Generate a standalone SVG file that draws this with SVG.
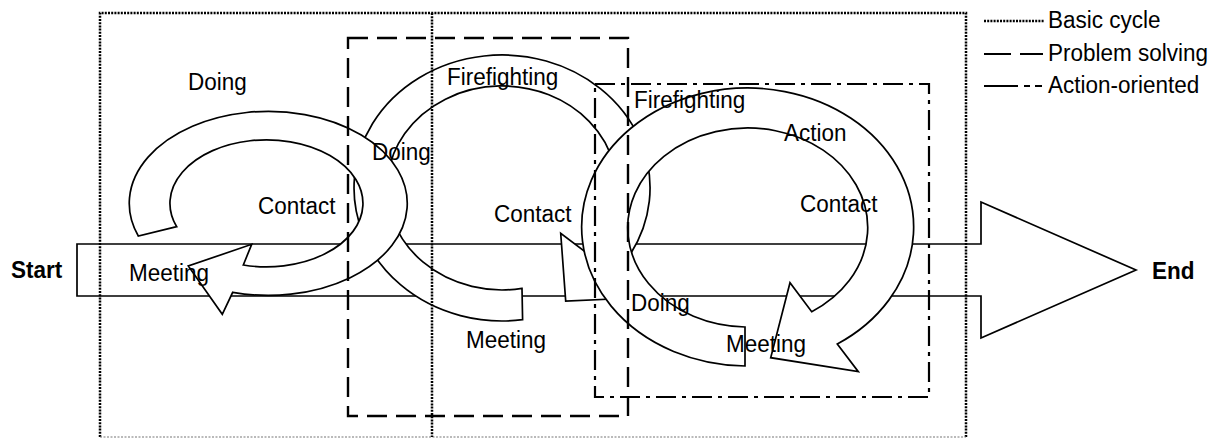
<svg xmlns="http://www.w3.org/2000/svg" width="1215" height="441" viewBox="0 0 1215 441">
<style>
text{font-family:"Liberation Sans",Arial,sans-serif;font-size:22.5px;fill:#000}
.b{font-weight:bold}
.band{fill:#fff;stroke:#000;stroke-width:1.7;stroke-linejoin:miter}
.dot{fill:none;stroke:#000;stroke-width:2.5;stroke-dasharray:2 1.2}
.dash{fill:none;stroke:#000;stroke-width:2.4;stroke-dasharray:20 9}
.dd{fill:none;stroke:#000;stroke-width:2.2;stroke-dasharray:20 6 4 6}
</style>
<g id="connectors">
<path id="main-arrow" class="band" d="M77,244 L981,244 L981,202 L1136,270 L981,338 L981,296 L77,296 Z"/>
</g>
<g id="cycle2">
<path class="band" d="M522.6,319.7 A148,133 0 1 1 630.2,254.5 L588.8,254.9 A115,102 0 1 0 522,288.4 Z"/>
<path class="band" d="M560.7,233.3 L565.7,301 L612,299 L612,272 Z"/>
</g>
<g id="cycle3">
<path class="band" d="M745,366 A166,139 0 1 1 837.3,344 L858.3,371.7 L770.7,357.7 L790,282.7 L811.7,311.7 A120,99.5 0 1 0 745,327 Z"/>
</g>
<g id="cycle1">
<path class="band" d="M138.3,236 A139,92 0 1 1 232.7,292.3 L222.3,314.3 L188.3,266 L251.7,244.3 L243.3,265 A96.5,63.5 0 1 0 176.7,226.7 Z"/>
</g>
<g id="basic-cycle-box">
<path class="dot" d="M100,437 L100,13 L966,13 L966,437"/>
<path fill="none" stroke="#777" stroke-width="1.2" stroke-dasharray="2 1.5" d="M100,437 L966,437"/>
<path class="dot" d="M432,13 L432,437"/>
</g>
<g id="problem-solving-box">
<rect class="dash" x="348" y="38" width="280" height="378"/>
</g>
<g id="action-oriented-box">
<rect class="dd" x="595" y="84" width="334" height="313"/>
</g>
<g id="labels">
<text transform="translate(188,90) scale(1,1.1)">Doing</text>
<text transform="translate(258,214) scale(1,1.1)">Contact</text>
<text transform="translate(129,281) scale(1,1.1)">Meeting</text>
<text transform="translate(372,160) scale(1,1.1)">Doing</text>
<text transform="translate(447,85) scale(1,1.1)">Firefighting</text>
<text transform="translate(494,222) scale(1,1.1)">Contact</text>
<text transform="translate(466,348) scale(1,1.1)">Meeting</text>
<text transform="translate(634,108) scale(1,1.1)">Firefighting</text>
<text transform="translate(784,141) scale(1,1.1)">Action</text>
<text transform="translate(800,212) scale(1,1.1)">Contact</text>
<text transform="translate(631,311) scale(1,1.1)">Doing</text>
<text transform="translate(726,352) scale(1,1.1)">Meeting</text>
<text class="b" transform="translate(11,278) scale(1,1.1)">Start</text>
<text class="b" transform="translate(1152,279) scale(1,1.1)">End</text>
</g>
<g id="legend">
<path class="dot" stroke-width="1.8" d="M984,21 L1044,21"/>
<text transform="translate(1048,28) scale(1,1.1)">Basic cycle</text>
<path fill="none" stroke="#000" stroke-width="2.2" d="M984,54 L1011,54 M1020,54 L1043,54"/>
<text transform="translate(1048,61) scale(1,1.1)">Problem solving</text>
<path fill="none" stroke="#000" stroke-width="2.2" d="M984,86 L1018,86 M1024,86 L1030,86 M1035,86 L1042,86"/>
<text transform="translate(1048,93) scale(1,1.1)">Action-oriented</text>
</g>
</svg>
